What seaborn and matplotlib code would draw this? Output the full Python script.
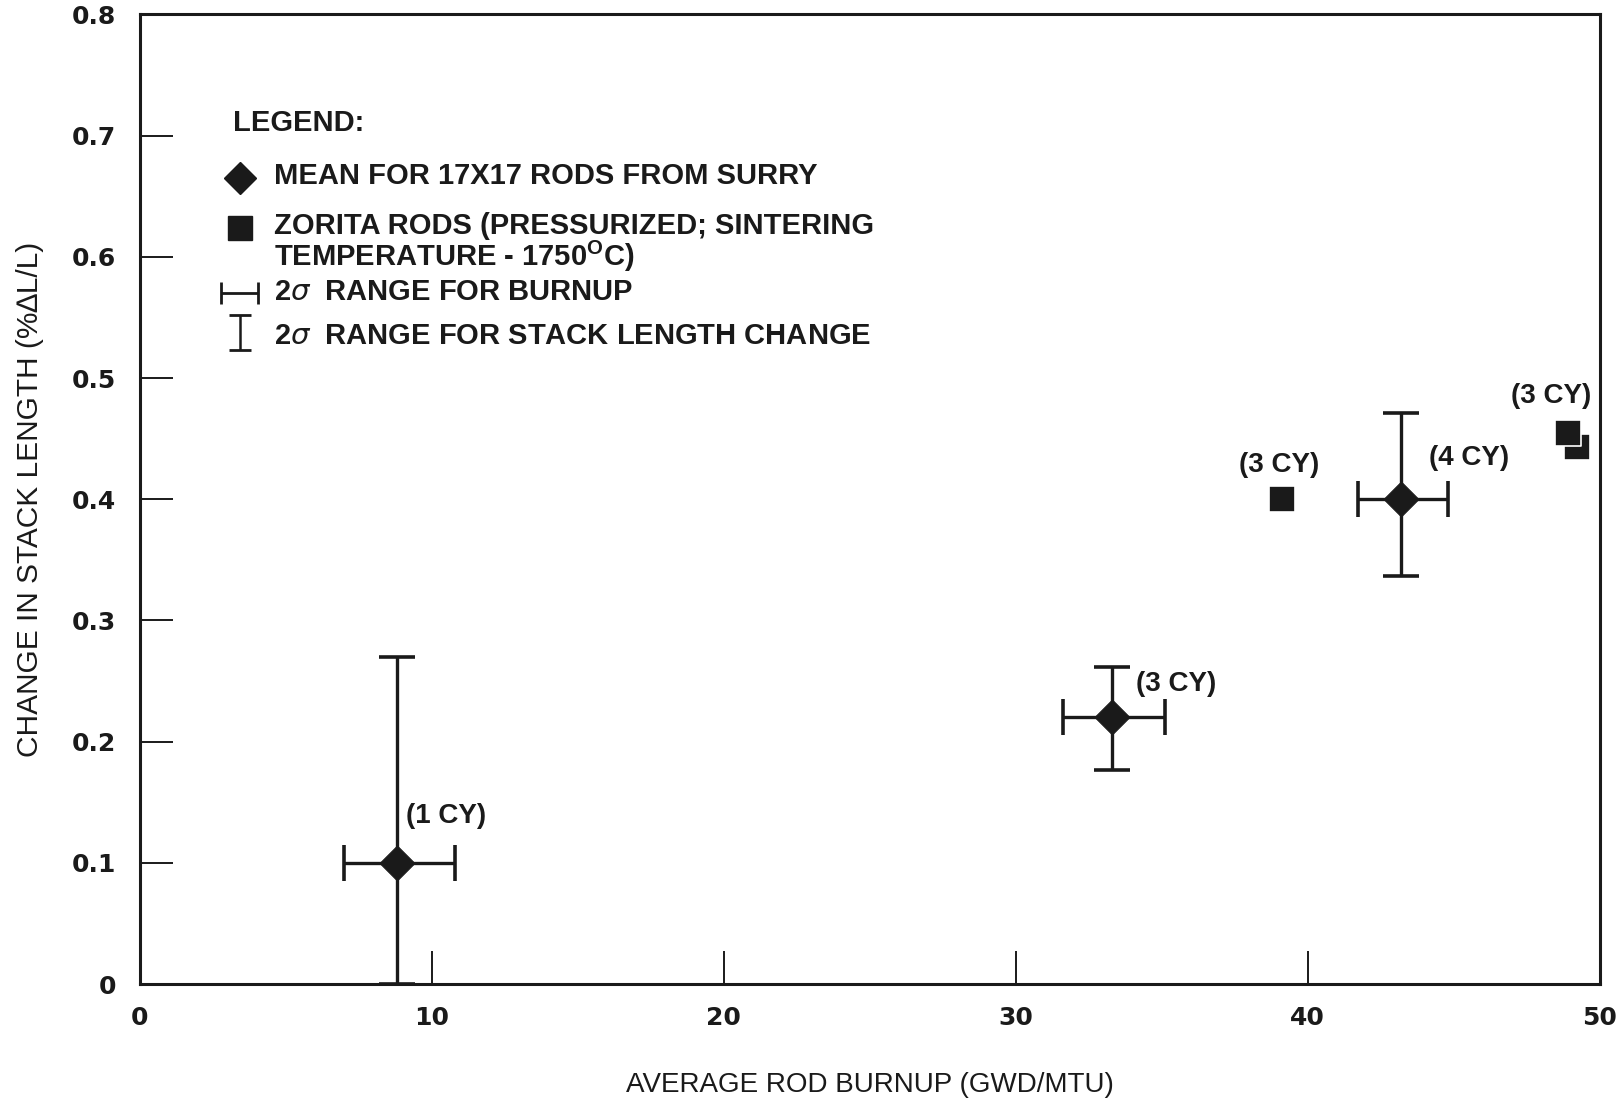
import numpy as np
import pandas as pd
import seaborn as sns
import matplotlib.pyplot as plt
from matplotlib.lines import Line2D

# Surry 17x17 rods: mean burnup / stack length change with 2-sigma ranges
surry_burnup = [8.8, 33.3, 43.2]
surry_change = [0.10, 0.22, 0.40]
burnup_lo = [7.0, 31.6, 41.7]
burnup_hi = [10.8, 35.1, 44.8]
change_lo = [0.0, 0.177, 0.337]
change_hi = [0.27, 0.262, 0.471]
surry_cycles = ['(1 CY)', '(3 CY)', '(4 CY)']

# Zorita rods
zorita_burnup = [39.1, 49.2, 48.9]
zorita_change = [0.40, 0.443, 0.455]
zorita_cycles = ['(3 CY)', '', '(3 CY)']

x_ticks = [0, 10, 20, 30, 40, 50]
y_ticks = [0, 0.1, 0.2, 0.3, 0.4, 0.5, 0.6, 0.7, 0.8]

surry = pd.DataFrame({'burnup': surry_burnup, 'change': surry_change,
                      'lo_x': burnup_lo, 'hi_x': burnup_hi,
                      'lo_y': change_lo, 'hi_y': change_hi, 'cy': surry_cycles})
zorita = pd.DataFrame({'burnup': zorita_burnup, 'change': zorita_change, 'cy': zorita_cycles})

sns.set_theme(style="ticks")
plt.rcParams['font.family'] = ['Liberation Sans', 'DejaVu Sans']
ink = '#1a1a1a'

fig = plt.figure(figsize=(16.21, 10.98), dpi=100)
ax = fig.add_axes([0.0861, 0.1038, 0.9009, 0.883])

xerr = [surry.burnup - surry.lo_x, surry.hi_x - surry.burnup]
yerr = [surry.change - surry.lo_y, surry.hi_y - surry.change]
ax.errorbar(surry.burnup, surry.change, xerr=xerr, yerr=yerr, fmt='none',
            ecolor=ink, elinewidth=2.4, capsize=13, capthick=2.6, zorder=2)

sns.scatterplot(data=surry, x='burnup', y='change', marker='D', s=18**2,
                color=ink, edgecolor=ink, linewidth=0.5, ax=ax, zorder=3)
sns.scatterplot(data=zorita, x='burnup', y='change', marker='s', s=19**2,
                color=ink, edgecolor='white', linewidth=1.2, ax=ax, zorder=3)

# cycle labels, offset from their points (points)
lab_fs = 20
surry_off = [(7, 34, 'left'), (17, 24, 'left'), (20, 30, 'left')]
for (_, r), (dx, dy, ha) in zip(surry.iterrows(), surry_off):
    ax.annotate(r.cy, (r.burnup, r.change), xytext=(dx, dy), textcoords='offset points',
                ha=ha, va='center', fontsize=lab_fs, fontweight='bold', color=ink)
zorita_off = [(-2, 25, 'center'), (0, 0, 'center'), (-12, 26, 'center')]
for (_, r), (dx, dy, ha) in zip(zorita.iterrows(), zorita_off):
    if r.cy:
        ax.annotate(r.cy, (r.burnup, r.change), xytext=(dx, dy), textcoords='offset points',
                    ha=ha, va='center', fontsize=lab_fs, fontweight='bold', color=ink)

ax.set_xlim(0, 50)
ax.set_ylim(0, 0.8)
ax.set_xticks(x_ticks)
ax.set_yticks(y_ticks)
ax.set_yticklabels(['0' if v == 0 else f'{v:.1f}' for v in y_ticks])
ax.tick_params(axis='both', direction='in', length=24, width=1.4, color=ink,
               labelsize=18, labelcolor=ink)
ax.tick_params(axis='x', pad=16)
ax.tick_params(axis='y', pad=17)
for lab in ax.get_xticklabels() + ax.get_yticklabels():
    lab.set_fontweight('bold')
    lab.set_family('DejaVu Sans')
for side in ['left', 'right', 'top', 'bottom']:
    ax.spines[side].set_linewidth(2.2)
    ax.spines[side].set_color(ink)

ax.set_xlabel('AVERAGE ROD BURNUP (GWD/MTU)', fontsize=20, color=ink, labelpad=30)
ax.set_ylabel('CHANGE IN STACK LENGTH (%\u2206L/L)', fontsize=21.5, color=ink, labelpad=20)

# hand-drawn legend block in the upper left
T = ax.transAxes
lx, tx = 0.0685, 0.092
fs = 21
ax.text(0.064, 0.888, 'LEGEND:', transform=T, fontsize=fs, fontweight='bold', va='center', color=ink)
ax.add_line(Line2D([lx], [0.831], transform=T, marker='D', markersize=16, color=ink))
ax.text(tx, 0.833, 'MEAN FOR 17X17 RODS FROM SURRY', transform=T, fontsize=fs,
        fontweight='bold', va='center', color=ink)
ax.add_line(Line2D([lx], [0.780], transform=T, marker='s', markersize=17, color=ink))
ax.text(tx, 0.782, 'ZORITA RODS (PRESSURIZED; SINTERING', transform=T, fontsize=fs,
        fontweight='bold', va='center', color=ink)
ax.text(tx, 0.750, 'TEMPERATURE - 1750$^\\mathregular{O}$C)', transform=T, fontsize=fs,
        fontweight='bold', va='center', color=ink)
ax.errorbar([lx], [0.713], xerr=[0.0125], fmt='none', ecolor=ink, elinewidth=2,
            capsize=8, capthick=2, transform=T, clip_on=False)
ax.text(tx, 0.714, '2$\\sigma$  RANGE FOR BURNUP', transform=T, fontsize=fs,
        fontweight='bold', va='center', color=ink)
ax.errorbar([lx], [0.672], yerr=[0.018], fmt='none', ecolor=ink, elinewidth=1.8,
            capsize=8, capthick=2, transform=T, clip_on=False)
ax.text(tx, 0.668, '2$\\sigma$  RANGE FOR STACK LENGTH CHANGE', transform=T, fontsize=fs,
        fontweight='bold', va='center', color=ink)

plt.savefig('out.png', dpi=100)
